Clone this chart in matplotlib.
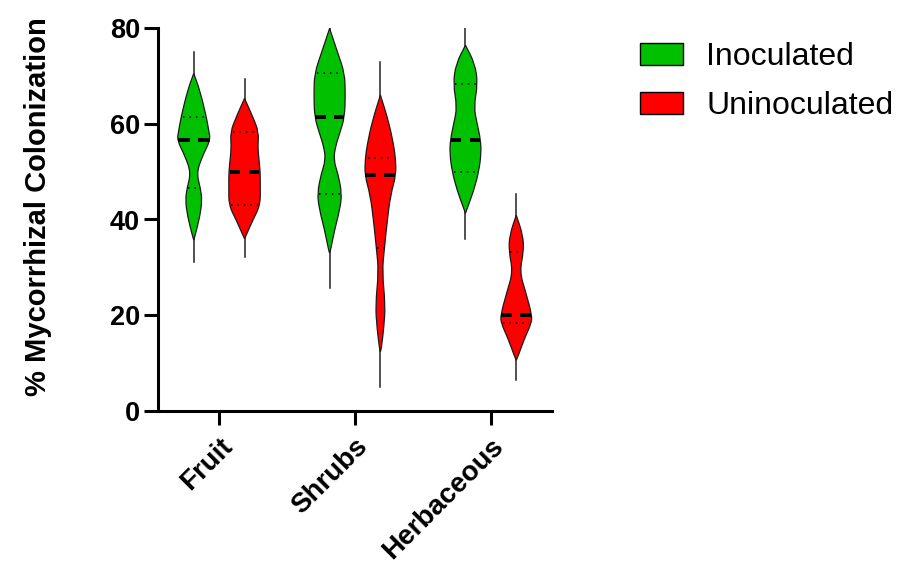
import numpy as np
import matplotlib.pyplot as plt
from matplotlib.path import Path
from matplotlib.patches import PathPatch, Patch

# Grupy i serie
categories = ['Fruit', 'Shrubs', 'Herbaceous']
series = ['Inoculated', 'Uninoculated']
colors = {'Inoculated': '#00C000', 'Uninoculated': '#FF0000'}

# Profile skrzypiec: poziomy (%) i względna szerokość (0-1)
fruit_ino_y = [70.5, 67, 61.4, 58.5, 56.6, 53.1, 49.7, 46.5, 44, 40.6, 37, 35.7]
fruit_ino_w = [0, .38, .79, .94, 1.04, .52, .18, .42, .52, .38, .11, 0]
fruit_un_y = [65.3, 61.4, 58.3, 55.2, 53.1, 50, 46.8, 43, 39.9, 36.4, 36]
fruit_un_w = [0, .52, .88, .83, .88, .98, .98, .98, .52, .06, 0]
shrub_ino_y = [79.9, 74.7, 70.5, 66.3, 61.4, 58, 55.2, 52.4, 49.6, 45.4, 42, 37.8, 33.6, 33]
shrub_ino_w = [0, .52, .94, .98, .94, .63, .36, .25, .52, .77, .63, .31, .06, 0]
shrub_un_y = [66, 60.4, 55.5, 52.8, 49.3, 45.1, 39.5, 34, 29.1, 22.1, 17.3, 13.1, 12.4]
shrub_un_w = [0, .52, .83, .94, .98, .63, .42, .25, .11, .31, .21, .06, 0]
herb_ino_y = [76.4, 72.6, 68.4, 63.5, 60, 56.7, 53.8, 50, 46.1, 42.6, 41.3]
herb_ino_w = [0, .58, .77, .52, .73, .94, .98, .83, .52, .14, 0]
herb_un_y = [40.9, 36.7, 33.3, 29.1, 24.9, 20, 18.3, 15.2, 11.7, 10.6]
herb_un_w = [0, .42, .46, .21, .58, .98, .94, .52, .14, 0]

# Min / max (wąsy), mediana i kwartyle
mins = [[31.2, 32.2], [25.7, 5.1], [36.0, 6.5]]
maxs = [[75.0, 69.4], [80.0, 72.9], [79.9, 45.4]]
medians = [[56.6, 50.0], [61.4, 49.3], [56.7, 20.0]]
q1s = [[46.5, 43.0], [45.4, 34.0], [50.0, 18.3]]
q3s = [[61.4, 58.3], [70.5, 52.8], [68.4, 33.3]]

profiles = [[(fruit_ino_y, fruit_ino_w), (fruit_un_y, fruit_un_w)],
            [(shrub_ino_y, shrub_ino_w), (shrub_un_y, shrub_un_w)],
            [(herb_ino_y, herb_ino_w), (herb_un_y, herb_un_w)]]

offset = 0.187
max_hw = 0.118


def violin_path(xc, ys, ws):
    ys = np.asarray(ys, float)
    hw = np.asarray(ws, float) * max_hw
    right = list(zip(xc + hw, ys))
    left = list(zip(xc - hw, ys))[::-1]
    verts, codes = [right[0]], [Path.MOVETO]
    for side in (right, left):
        pts = side
        verts.append(((pts[0][0] + pts[1][0]) / 2, (pts[0][1] + pts[1][1]) / 2))
        codes.append(Path.LINETO)
        for i in range(1, len(pts) - 1):
            mid = ((pts[i][0] + pts[i + 1][0]) / 2, (pts[i][1] + pts[i + 1][1]) / 2)
            verts += [pts[i], mid]
            codes += [Path.CURVE3, Path.CURVE3]
        verts.append(pts[-1])
        codes.append(Path.LINETO)
    verts.append(right[0])
    codes.append(Path.CLOSEPOLY)
    return Path(verts, codes)


def half_width(ys, ws, level):
    return np.interp(level, ys[::-1], ws[::-1]) * max_hw


fig = plt.figure(figsize=(9.18, 5.70), dpi=100)
ax = fig.add_axes([158 / 918, 1 - 411 / 570, (552 - 158) / 918, (411 - 28) / 570])

for i, cat in enumerate(categories):
    for j, s in enumerate(series):
        xc = i + (-offset if j == 0 else offset)
        ys, ws = profiles[i][j]
        ax.plot([xc, xc], [mins[i][j], maxs[i][j]], color='#222222', lw=1.1, zorder=1)
        ax.add_patch(PathPatch(violin_path(xc, ys, ws), facecolor=colors[s],
                               edgecolor='#1a1a1a', lw=0.9, zorder=2))
        # mediana - gruba przerywana
        hw = half_width(ys, ws, medians[i][j]) * 0.95
        gap = 0.03
        for a, b in [(xc - hw, xc - gap), (xc + gap, xc + hw)]:
            ax.plot([a, b], [medians[i][j]] * 2, color='black', lw=2.8,
                    solid_capstyle='butt', zorder=3)
        # kwartyle - kropkowane
        for q in (q1s[i][j], q3s[i][j]):
            hw = half_width(ys, ws, q) * 0.85
            ax.plot([xc - hw, xc + hw], [q, q], color='black', lw=1.1,
                    linestyle=(0, (1, 3.2)), zorder=3)

ax.set_xlim(-0.45, 2.45)
ax.set_ylim(0, 80)
ax.set_yticks([0, 20, 40, 60, 80])
ax.set_xticks(range(len(categories)))
ax.set_xticklabels(categories, rotation=45, ha='right', va='top',
                   rotation_mode='anchor', fontweight='bold', fontsize=20,
                   family='Liberation Sans')
for lab in ax.get_yticklabels():
    lab.set_fontweight('bold')
    lab.set_fontsize(19.5)
    lab.set_family('Liberation Sans')
for sp in ['top', 'right']:
    ax.spines[sp].set_visible(False)
for sp in ['left', 'bottom']:
    ax.spines[sp].set_linewidth(2.2)
ax.tick_params(width=2.2, length=10, pad=3)
ax.tick_params(axis='x', pad=6)

fig.text(38 / 918, 1 - 207 / 570, '% Mycorrhizal Colonization', rotation=90,
         ha='center', va='center', fontsize=21, fontweight='bold',
         family='Liberation Sans')

handles = [Patch(facecolor=colors[s], edgecolor='black', lw=1.0, label=s) for s in series]
fig.legend(handles=handles, loc='upper left', bbox_to_anchor=(624 / 918, 1 - 26 / 570),
           frameon=False, borderpad=0, prop={'family': 'Liberation Sans', 'size': 23},
           handlelength=1.35, handleheight=0.66, handletextpad=0.72, labelspacing=0.6)

fig.savefig('out.png', dpi=100)
